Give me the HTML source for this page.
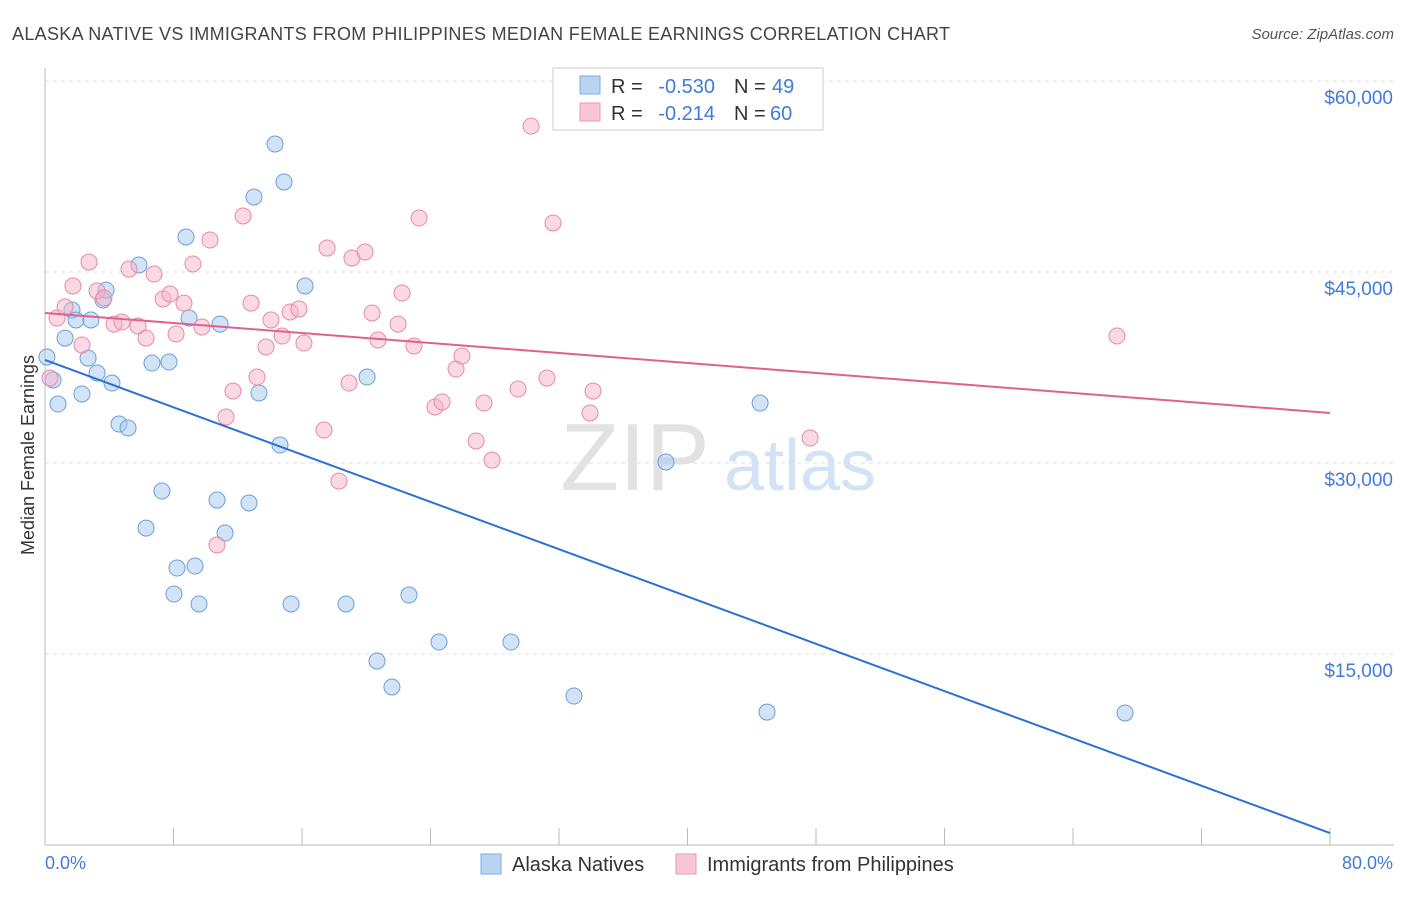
<!DOCTYPE html>
<html><head><meta charset="utf-8"><style>
body{margin:0;background:#fff;font-family:"Liberation Sans",sans-serif;}
svg text{font-family:"Liberation Sans",sans-serif;}
</style></head><body>
<svg width="1406" height="892" xmlns="http://www.w3.org/2000/svg">
<text x="12" y="40" font-size="18" fill="#444" textLength="938">ALASKA NATIVE VS IMMIGRANTS FROM PHILIPPINES MEDIAN FEMALE EARNINGS CORRELATION CHART</text>
<text x="1394" y="39" font-size="15" fill="#555" font-style="italic" text-anchor="end">Source: ZipAtlas.com</text>
<g id="grid"></g>
<g><text x="635" y="490" font-size="96" font-family="Liberation Serif" fill="#e2e2e2" text-anchor="middle">ZIP</text><text x="800" y="490" font-size="72" fill="#d3e2f4" text-anchor="middle">atlas</text></g>
<g id="pts"></g>
<g id="lines"></g>
<text x="34" y="455" font-size="18" fill="#333" text-anchor="middle" transform="rotate(-90 34 455)">Median Female Earnings</text>
<text x="45" y="869" font-size="18" fill="#3f7bd8">0.0%</text>
<text x="1393" y="869" font-size="18" fill="#3f7bd8" text-anchor="end">80.0%</text>
<g>
<rect x="553" y="68" width="270" height="62" fill="#fff" stroke="#ccc"/>
<rect x="580" y="76" width="20" height="18" fill="#b9d3f2" stroke="#7ea9e0"/>
<rect x="580" y="103" width="20" height="18" fill="#f9c6d5" stroke="#eb9ab4"/>
<text x="611" y="93" font-size="20" fill="#333">R =</text>
<text x="715" y="93" font-size="20" fill="#3f7bd8" text-anchor="end">-0.530</text>
<text x="734" y="93" font-size="20" fill="#333">N =</text>
<text x="772" y="93" font-size="20" fill="#3f7bd8">49</text>
<text x="611" y="120" font-size="20" fill="#333">R =</text>
<text x="715" y="120" font-size="20" fill="#3f7bd8" text-anchor="end">-0.214</text>
<text x="734" y="120" font-size="20" fill="#333">N =</text>
<text x="770" y="120" font-size="20" fill="#3f7bd8">60</text>
</g>
<g>
<rect x="481" y="854" width="20" height="20" fill="#b9d3f2" stroke="#7ea9e0"/>
<text x="512" y="871" font-size="20" fill="#333">Alaska Natives</text>
<rect x="676" y="854" width="20" height="20" fill="#f9c6d5" stroke="#eb9ab4"/>
<text x="707" y="871" font-size="20" fill="#333">Immigrants from Philippines</text>
</g>
</svg>
<script>
const yTicks=[15000,30000,45000,60000];
const yTickLabels=["$15,000","$30,000","$45,000","$60,000"];
const blueX=[0.12,0.5,0.81,1.25,1.68,1.93,2.68,2.86,3.24,2.30,3.61,3.80,4.17,4.61,5.17,5.85,6.29,6.66,7.28,7.72,8.03,8.22,8.78,8.97,9.34,9.59,10.71,10.90,11.21,12.70,13.01,13.32,14.32,14.63,14.88,15.32,16.19,18.74,20.05,20.67,21.60,22.66,24.53,29.01,32.93,38.66,44.52,44.95,67.24];
const blueY=[38.32,36.52,34.63,39.81,42.01,41.23,38.24,41.23,37.07,35.42,42.80,43.58,36.28,33.06,32.75,45.55,24.89,37.85,27.80,37.93,19.71,21.75,47.75,41.39,21.91,18.93,27.09,40.91,24.50,26.86,50.89,35.50,55.05,31.41,52.07,18.93,43.90,18.93,36.75,14.45,12.41,19.63,15.94,15.94,11.70,30.08,34.71,10.44,10.37];
const pinkX=[0.31,0.75,1.25,1.74,2.30,2.74,3.24,3.67,4.30,4.79,5.23,5.79,6.29,6.79,7.35,7.78,8.16,8.65,9.21,9.77,10.27,10.71,11.27,11.70,12.33,12.83,13.20,13.76,14.07,14.76,15.26,15.81,16.12,17.37,17.56,18.30,18.93,19.11,19.92,20.36,20.73,21.98,22.23,22.97,23.29,24.28,24.72,25.59,25.96,26.84,27.33,27.83,29.45,30.26,31.25,31.63,33.93,34.12,47.63,66.74];
const pinkY=[36.67,41.39,42.25,43.90,39.27,45.78,43.51,42.96,40.91,41.07,45.23,40.76,39.81,44.84,42.88,43.27,40.13,42.56,45.63,40.68,47.51,23.56,33.61,35.65,49.40,42.56,36.75,39.11,41.23,39.97,41.86,42.09,39.42,32.59,46.88,28.58,36.28,46.10,46.57,41.78,39.66,40.91,43.35,39.19,49.24,34.40,34.79,37.38,38.40,31.73,34.71,30.23,35.81,56.46,36.67,48.85,33.93,35.65,31.96,39.97];
const blueTrend=[38.09,0.94];
const pinkTrend=[41.78,33.93];
const NS="http://www.w3.org/2000/svg";
const sx=v=>45+v/80*1285;
const sy=v=>845-v/15000*191;
function mk(t,a,p){const e=document.createElementNS(NS,t);for(const k in a)e.setAttribute(k,a[k]);p.appendChild(e);return e;}
const grid=document.getElementById('grid');
yTicks.forEach((t,i)=>{
 const l=mk('line',{x1:45,x2:1394,y1:sy(t),y2:sy(t),stroke:'#e2e2e2','stroke-dasharray':'4 4'},grid);
 
 
 const tx=mk('text',{x:1393,y:sy(t)+23,'font-size':19,fill:'#3f7bd8','text-anchor':'end'},grid);
 tx.textContent=yTickLabels[i];
 
 
});
mk('line',{x1:45,x2:45,y1:68,y2:845,stroke:'#bbb'},grid);
mk('line',{x1:45,x2:1394,y1:845,y2:845,stroke:'#bbb'},grid);
for(let i=0;i<=10;i++){const t=mk('line',{x1:sx(i*8),x2:sx(i*8),y1:828,y2:845,stroke:'#bbb'},grid);
 
 }
const pts=document.getElementById('pts');
blueX.forEach((x,i)=>{const c=mk('circle',{cx:sx(x),cy:sy(blueY[i]*1000),r:8,fill:'rgba(168,200,238,0.5)',stroke:'#6a9fdc','stroke-width':1},pts);
 
 });
pinkX.forEach((x,i)=>{const c=mk('circle',{cx:sx(x),cy:sy(pinkY[i]*1000),r:8,fill:'rgba(245,179,200,0.5)',stroke:'#e889a8','stroke-width':1},pts);
 
 });
const lines=document.getElementById('lines');
const bl=mk('line',{x1:sx(0),y1:sy(blueTrend[0]*1000),x2:sx(80),y2:sy(blueTrend[1]*1000),stroke:'#2d6fd6','stroke-width':2},lines);


const pl=mk('line',{x1:sx(0),y1:sy(pinkTrend[0]*1000),x2:sx(80),y2:sy(pinkTrend[1]*1000),stroke:'#e0608e','stroke-width':2},lines);


</script>
</body></html>
